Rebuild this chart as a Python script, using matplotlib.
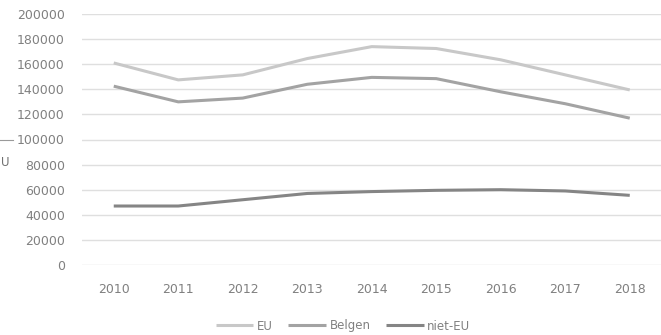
import matplotlib
matplotlib.use("Agg")
import matplotlib.pyplot as plt
from matplotlib.lines import Line2D

years = ["2010", "2011", "2012", "2013", "2014", "2015", "2016", "2017", "2018"]
eu = [161000, 147500, 151500, 164500, 174000, 172500, 163500, 151500, 139500]
belgen = [142500, 130000, 133000, 144000, 149500, 148500, 138000, 128500, 117000]
niet_eu = [47000, 47000, 52000, 57000, 58500, 59500, 60000, 59000, 55500]
yticks = list(range(0, 200001, 20000))

plt.rcParams['font.family'] = ['DejaVu Sans']
txt = "#808080"

fig = plt.figure(figsize=(6.61, 3.35), dpi=100)
ax = fig.add_axes([81.5 / 661, 1 - 265 / 335, (662 - 81.5) / 661, (265 - 14) / 335])

x = list(range(len(years)))
ax.plot(x, eu, color="#c8c8c8", lw=2.2, label="EU", solid_capstyle="butt")
ax.plot(x, belgen, color="#a3a3a3", lw=2.2, label="Belgen", solid_capstyle="butt")
ax.plot(x, niet_eu, color="#858585", lw=2.2, label="niet-EU", solid_capstyle="butt")

ax.set_xlim(-0.5, len(years) - 0.5)
ax.set_ylim(0, 200000)
ax.set_yticks(yticks)
ax.set_yticklabels([str(v) for v in yticks])
ax.set_xticks(x)
ax.set_xticklabels(years)
ax.grid(axis="y", color="#dfdfdf", lw=1.0)
ax.set_axisbelow(True)
for s in ax.spines.values():
    s.set_visible(False)
ax.tick_params(axis="both", length=0, labelsize=9, labelcolor=txt)
ax.tick_params(axis="y", pad=12)
ax.tick_params(axis="x", pad=13)

leg = fig.legend(loc="center", bbox_to_anchor=(343 / 661, 1 - 326 / 335), ncol=3,
                 frameon=False, fontsize=8.5, handlelength=3.2, handletextpad=0.3,
                 columnspacing=1.3)
for t in leg.get_texts():
    t.set_color(txt)

fig.text(1 / 661, 1 - 163 / 335, "U", fontsize=8.5, color="#707070", ha="left", va="center")
fig.add_artist(Line2D([0, 13 / 661], [1 - 140 / 335, 1 - 140 / 335], color="#9a9a9a", lw=0.8))

fig.savefig("out.png", dpi=100)
